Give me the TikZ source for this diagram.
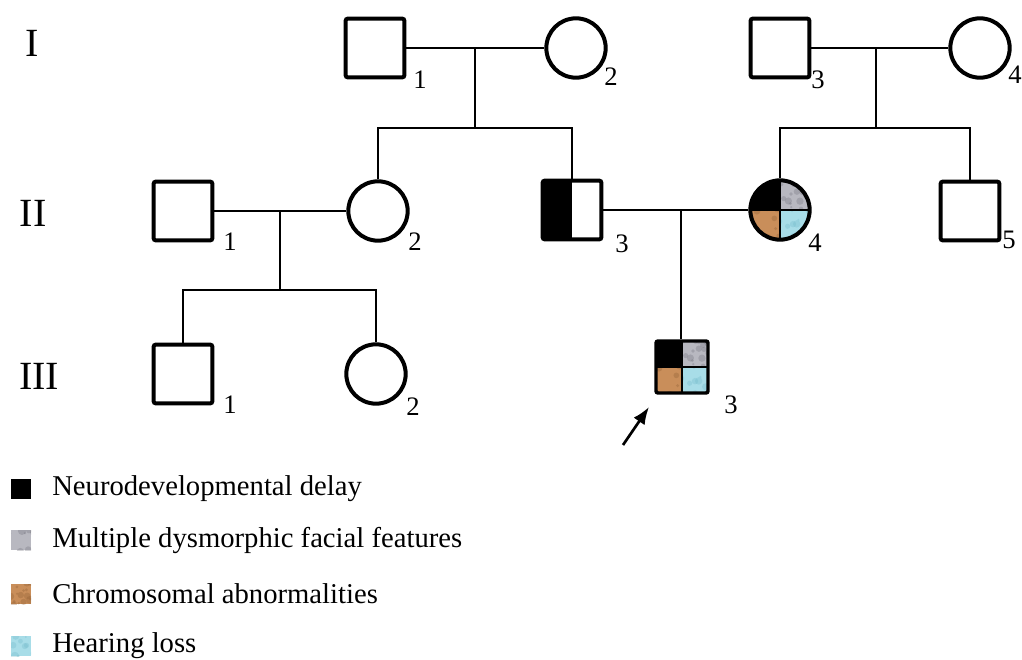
\documentclass[tikz,border=0pt]{standalone}
\usepackage{fontspec}
\setmainfont{Liberation Serif}
\usetikzlibrary{arrows.meta}
\definecolor{dysm}{HTML}{B8B8C0}
\definecolor{dysmdk}{HTML}{6E6E78}
\definecolor{chrom}{HTML}{C98E5A}
\definecolor{chromdk}{HTML}{8A5A30}
\definecolor{hear}{HTML}{A8DDE8}
\definecolor{heardk}{HTML}{6FB8C8}
% textured fill of the rectangle between two anchors of the path picture box
\newcommand\pedtex[5]{%
  \begin{scope}[sharp corners]
    \clip (path picture bounding box.#3) rectangle (path picture bounding box.#4);
    \fill[#1] (path picture bounding box.#3) rectangle (path picture bounding box.#4);
    \pgfmathsetseed{#5}
    \foreach \k in {1,...,55}{%
      \pgfmathsetmacro\dx{rand*24}\pgfmathsetmacro\dy{rand*24}\pgfmathsetmacro\rr{0.8+2.4*rnd}%
      \fill[#2,opacity=0.3] ([shift={(\dx pt,\dy pt)}]path picture bounding box.center) circle (\rr pt);}
  \end{scope}}
\tikzset{
  male/.style={draw, line width=3pt, rounded corners=1.5pt, minimum size=44pt, inner sep=0pt},
  female/.style={draw, circle, line width=3pt, minimum size=44.5pt, inner sep=0pt},
  halfaff/.style={path picture={\fill[black,sharp corners] (path picture bounding box.south west) rectangle (path picture bounding box.north);}},
  quad/.style={path picture={
      \fill[black,sharp corners] (path picture bounding box.north west) rectangle (path picture bounding box.center);
      \pedtex{dysm}{dysmdk}{north east}{center}{11}
      \pedtex{chrom}{chromdk}{south west}{center}{23}
      \pedtex{hear}{heardk}{south east}{center}{37}
      \draw[line width=0.9pt] (path picture bounding box.north) -- (path picture bounding box.south)
        (path picture bounding box.west) -- (path picture bounding box.east);}},
  link/.style={line width=1.9pt},
  num/.style={font=\fontsize{20}{20}\selectfont, inner sep=0pt},
  gen/.style={font=\fontsize{30}{30}\selectfont, inner sep=0pt},
  legtext/.style={font=\fontsize{21.5}{21.5}\selectfont, anchor=west, inner sep=0pt},
  legbox/.style={minimum size=15pt, inner sep=0pt},
}
\begin{document}
\begin{tikzpicture}[x=0.75pt,y=-0.75pt]
\useasboundingbox (0,0) rectangle (1022,660);

% generation labels
\node[gen] (gI) at (32,43) {I};
\node[gen] (gII) at (33,213) {II};
\node[gen] (gIII) at (39,376) {III};

% generation I
\node[male] (I1) at (375,48) {};
\node[female] (I2) at (576,48) {};
\node[male] (I3) at (780,48) {};
\node[female] (I4) at (980,48) {};

% generation II
\node[male] (II1) at (183,211) {};
\node[female] (II2) at (378,211) {};
\node[male,halfaff] (II3) at (572,210) {};
\node[female,quad] (II4) at (780,210) {};
\node[male] (II5) at (970,211) {};

% generation III
\node[male] (III1) at (183,374) {};
\node[female] (III2) at (376,374) {};
\node[male,quad,minimum size=39pt,line width=2.6pt] (III3) at (682,367) {};

% numbers
\node[num] (nI1) at (420,80) {1};
\node[num] (nI2) at (611,77) {2};
\node[num] (nI3) at (818,80) {3};
\node[num] (nI4) at (1015,75) {4};
\node[num] (nII1) at (230,242) {1};
\node[num] (nII2) at (415,242) {2};
\node[num] (nII3) at (622,244) {3};
\node[num] (nII4) at (815,243) {4};
\node[num] (nII5) at (1009,240) {5};
\node[num] (nIII1) at (230,405) {1};
\node[num] (nIII2) at (413,407) {2};
\node[num] (nIII3) at (731,405) {3};

% family I-1 x I-2
\coordinate (m1) at (475,48);
\coordinate (s1) at (475,128);
\draw[link] (I1.east) -- (I2.west);
\draw[link] (m1) -- (s1);
\draw[link] (II2.north) |- (s1) -| (II3.north);

% family I-3 x I-4
\coordinate (m2) at (876,48);
\coordinate (s2) at (876,128);
\draw[link] (I3.east) -- (I4.west);
\draw[link] (m2) -- (s2);
\draw[link] (II4.north) |- (s2) -| (II5.north);

% family II-1 x II-2
\coordinate (m3) at (280,211);
\coordinate (s3) at (280,290);
\draw[link] (II1.east) -- (II2.west);
\draw[link] (m3) -- (s3);
\draw[link] (III1.north) |- (s3) -| (III2.north);

% family II-3 x II-4
\coordinate (m4) at (681,210);
\draw[link] (II3.east) -- (II4.west);
\draw[link] (m4) -- (m4 |- III3.north);

% proband arrow
\coordinate (at) at (623,445);
\coordinate (ah) at (649,407);
\draw[line width=2pt,-{Latex[length=13pt,width=10pt]}] (at) -- (ah);

% legend
\node[legbox,fill=black] (L1) at (21,489) {};
\node[legbox,path picture={\pedtex{dysm}{dysmdk}{south west}{north east}{5}}] (L2) at (21,540) {};
\node[legbox,path picture={\pedtex{chrom}{chromdk}{south west}{north east}{7}}] (L3) at (21,594) {};
\node[legbox,path picture={\pedtex{hear}{heardk}{south west}{north east}{9}}] (L4) at (21,646) {};
\node[legtext] (T1) at (52,489) {Neurodevelopmental delay};
\node[legtext] (T2) at (52,540) {Multiple dysmorphic facial features};
\node[legtext] (T3) at (52,594) {Chromosomal abnormalities};
\node[legtext] (T4) at (52,646) {Hearing loss};
\end{tikzpicture}
\end{document}
